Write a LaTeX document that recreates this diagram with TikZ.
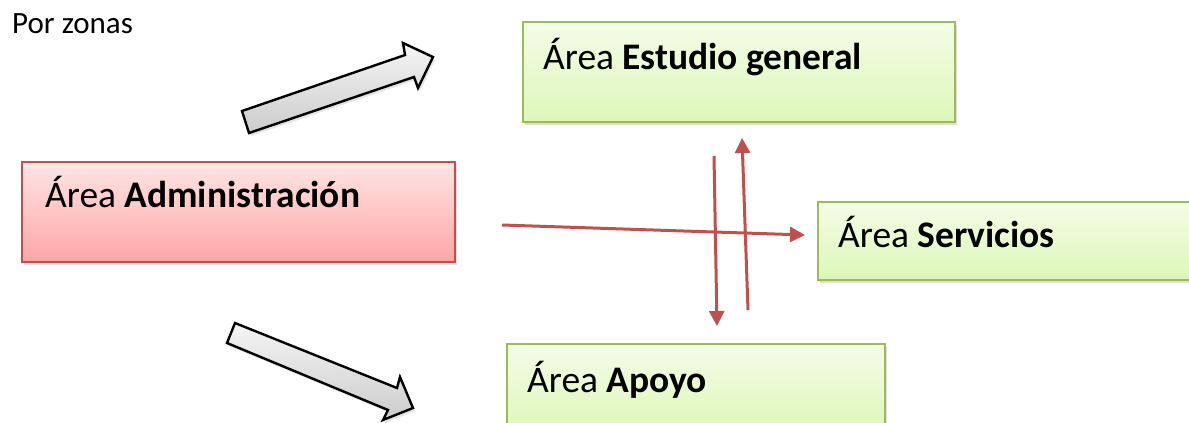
\documentclass[tikz,border=0pt]{standalone}
\usepackage{fontspec}
\setmainfont{Carlito}
\usetikzlibrary{shadows,arrows.meta}
\definecolor{redline}{HTML}{C0504D}
\definecolor{greenline}{HTML}{9BBB59}
\tikzset{
  areabox/.style={draw=greenline, line width=1.8pt, top color={rgb,255:red,244;green,252;blue,232}, bottom color={rgb,255:red,221;green,247;blue,183}, minimum width=#1, inner sep=0pt, drop shadow={opacity=0.25,shadow xshift=2pt,shadow yshift=-3pt}},
  redbox/.style={draw=redline, line width=1.8pt, top color={rgb,255:red,255;green,229;blue,229}, bottom color={rgb,255:red,255;green,166;blue,166}, inner sep=0pt, drop shadow={opacity=0.25,shadow xshift=2pt,shadow yshift=-3pt}},
  lbl/.style={anchor=base west, inner sep=0pt, font=\fontsize{37.5}{43}\selectfont},
  redarrow/.style={draw=redline, line width=3pt, -{Triangle[length=15pt,width=15pt]}},
  blockarrow/.style={draw=black, line width=2.4pt, line join=miter, top color=gray!8, bottom color=gray!40, drop shadow={opacity=0.2,shadow xshift=2pt,shadow yshift=-3pt}}
}
\begin{document}
\begin{tikzpicture}[x=1pt,y=-1pt]
\useasboundingbox (0,0) rectangle (1189,423);
\fill[white] (0,0) rectangle (1189,423);
% title
\node[lbl, font=\fontsize{31}{36}\selectfont] (title) at (12,33) {Por zonas};
% boxes
\node[redbox, minimum width=433pt, minimum height=100pt] (adm) at (238.5,212) {};
\node[areabox=432pt, minimum height=100pt] (est) at (739,72) {};
\node[areabox=390pt, minimum height=78pt] (ser) at (1013,241) {};
\node[areabox=378pt, minimum height=90pt] (apo) at (696,389) {};
% labels
\node[lbl] (admt) at (45,207) {Área \textbf{Administración}};
\node[lbl] (estt) at (543,69) {Área \textbf{Estudio general}};
\node[lbl] (sert) at (838,247) {Área \textbf{Servicios}};
\node[lbl] (apot) at (527,392) {Área \textbf{Apoyo}};
% block arrows
\path[blockarrow] (242,111) -- (405,55) -- (403,43) -- (433,57) -- (418,88) -- (414,77) -- (249,133) -- cycle;
\path[blockarrow] (235,323) -- (397,388) -- (400,377) -- (413,408) -- (383,420) -- (388,410) -- (227,343) -- cycle;
% red arrows
\coordinate (h1) at (502,225);
\coordinate (h2) at (805,235);
\coordinate (d1) at (714,156);
\coordinate (d2) at (717,326);
\coordinate (u1) at (748,310);
\coordinate (u2) at (742,138);
\draw[redarrow] (h1) -- (h2);
\draw[redarrow] (d1) -- (d2);
\draw[redarrow] (u1) -- (u2);
\end{tikzpicture}
\end{document}
